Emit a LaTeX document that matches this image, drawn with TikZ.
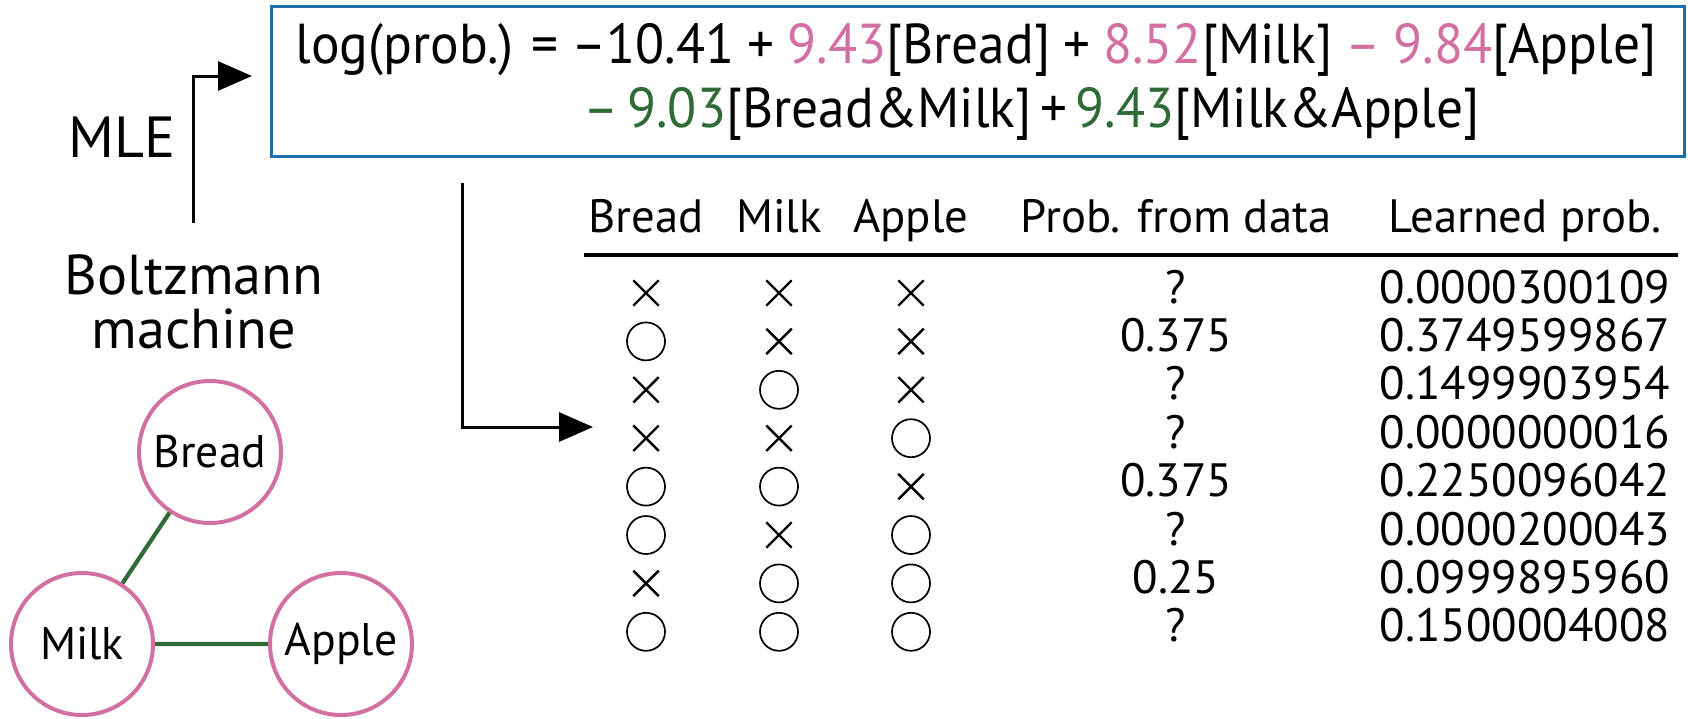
\documentclass[tikz,border=0pt]{standalone}
\usepackage{fontspec}
\setmainfont{PT Sans}
\newfontfamily\eqfont[FakeStretch=0.95]{PT Sans}
\usetikzlibrary{arrows.meta,shapes.misc}

\definecolor{bmpink}{RGB}{211,112,162}
\definecolor{bmgreen}{RGB}{46,107,55}
\definecolor{bmblue}{RGB}{27,111,170}
\newcommand{\pk}[1]{\textcolor{bmpink}{#1}}
\newcommand{\gr}[1]{\textcolor{bmgreen}{#1}}
\newcommand{\eqstyle}{\eqfont\fontsize{16}{19}\selectfont\spaceskip 0.15em\relax}

\begin{document}
\begin{tikzpicture}[
    x=0.1mm, y=-0.1mm,
    item/.style={circle, draw=bmpink, line width=0.4mm, minimum size=14.2mm, inner sep=0pt, font=\fontsize{13}{15}\selectfont},
    txt/.style={anchor=base, inner sep=0pt, font=\fontsize{13.3}{16}\selectfont},
    eq/.style={anchor=base west, inner sep=0pt, font=\eqstyle},
    sym1/.style={circle, draw, line width=0.17mm, minimum size=3.8mm, inner sep=0pt},
    sym0/.style={cross out, draw, line width=0.24mm, minimum size=2.3mm, inner sep=0pt},
    arr/.style={line width=0.3mm, -{Triangle[length=3.4mm, width=2.9mm]}}
]
\useasboundingbox (0,0) rectangle (1688,718);

% fitted model
\node (box) [draw=bmblue, line width=0.3mm, minimum width=141.3mm, minimum height=15mm, inner sep=0pt] at (978,81) {};
\node (eq1) [eq] at (295,63)
    {\spaceskip 0.23em\relax log(prob.) = –10.41 + \pk{9.43}[Bread] + \pk{8.52}[Milk] \pk{– 9.84}[Apple]};
\node (eq2) [eq] at (583,127)
    {\gr{– 9.03}[Bread\&Milk] + \gr{9.43}[Milk\&Apple]};

% left side
\node (mle) [anchor=base, inner sep=0pt, font=\fontsize{16.5}{20}\selectfont] at (122,157) {MLE};
\node (bm) [anchor=base, inner sep=0pt, align=center, font=\fontsize{16}{15.1}\selectfont] at (194,348) {Boltzmann\\machine};
\coordinate (mlefoot) at (193,223);
\coordinate (mletip) at (252,76);
\draw[arr] (mlefoot) |- (mletip);

\node (bread) [item] at (210,452) {Bread};
\node (milk) [item] at (82,644) {Milk};
\node (apple) [item] at (341,644) {Apple};
\draw[bmgreen, line width=0.42mm] (bread) -- (milk) (milk) -- (apple);

% table
\coordinate (tabfoot) at (462,183);
\coordinate (tabtip) at (593,427);
\draw[arr] (tabfoot) |- (tabtip);

\node (hbread) [txt] at (646,232) {Bread};
\node (hmilk) [txt] at (779,232) {Milk};
\node (happle) [txt] at (911,232) {Apple};
\node (hdata) [txt] at (1176,232) {Prob. from data};
\node (hlearn) [txt] at (1525,232) {Learned prob.};
\draw[line width=0.33mm] (584,255) -- (1678,255);

\foreach \r/\b/\m/\a/\d/\l in {
    1/0/0/0/?/0.0000300109,
    2/1/0/0/0.375/0.3749599867,
    3/0/1/0/?/0.1499903954,
    4/0/0/1/?/0.0000000016,
    5/1/1/0/0.375/0.2250096042,
    6/1/0/1/?/0.0000200043,
    7/0/1/1/0.25/0.0999895960,
    8/1/1/1/?/0.1500004008} {
    \pgfmathsetmacro\yb{303+48.4*(\r-1)}
    \node (b\r) [sym\b] at (646,\yb-10) {};
    \node (m\r) [sym\m] at (779,\yb-10) {};
    \node (a\r) [sym\a] at (911,\yb-10) {};
    \node (d\r) [txt] at (1176,\yb) {\d};
    \node (l\r) [txt] at (1525,\yb) {\l};
}
\end{tikzpicture}
\end{document}
